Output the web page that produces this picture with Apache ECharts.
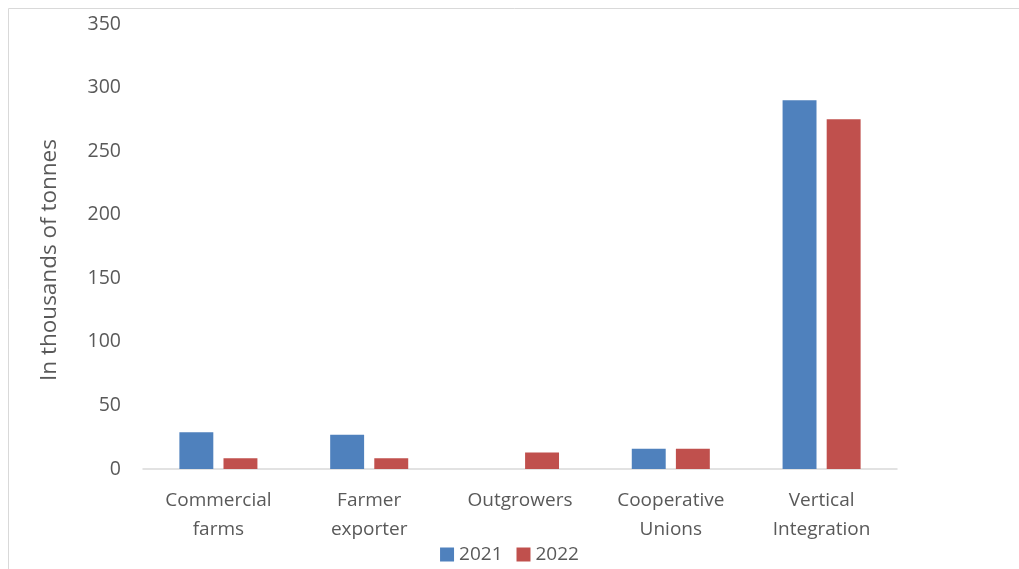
<!DOCTYPE html>
<html><head><meta charset="utf-8">
<script src="https://cdn.jsdelivr.net/npm/echarts@6/dist/echarts.min.js"></script>
<style>html,body{margin:0;padding:0;background:#fff}#c{width:1019px;height:569px}</style>
</head><body><div id="c"></div>
<script>
const categories = ['Commercial\nfarms', 'Farmer\nexporter', 'Outgrowers', 'Cooperative\nUnions', 'Vertical\nIntegration'];
const values2021 = [29, 27, 0, 16, 290];
const values2022 = [8.5, 8.5, 13, 16, 275];
const yTicks = [0, 50, 100, 150, 200, 250, 300, 350];
const font = 'Open Sans';
const chart = echarts.init(document.getElementById('c'));
chart.setOption({
  animation: false,
  textStyle: {fontFamily: font},
  graphic: [{type: 'rect', shape: {x: 8.5, y: 8.5, width: 1030, height: 600}, style: {fill: 'none', stroke: '#d9d9d9', lineWidth: 1}, silent: true}],
  grid: {left: 143, right: 122, top: 24, bottom: 100},
  legend: {bottom: 0, left: 'center', itemWidth: 14, itemHeight: 14, itemGap: 14,
    textStyle: {fontSize: 19, color: '#595959', fontFamily: font},
    data: [{name: '2021', icon: 'rect'}, {name: '2022', icon: 'rect'}]},
  xAxis: {type: 'category', data: categories,
    axisLine: {lineStyle: {color: '#d9d9d9', width: 1.5}}, axisTick: {show: false},
    axisLabel: {color: '#595959', fontSize: 19, lineHeight: 29, margin: 17, interval: 0, fontFamily: font}},
  yAxis: {type: 'value', min: yTicks[0], max: yTicks[yTicks.length - 1], interval: 50,
    name: 'In thousands of tonnes', nameLocation: 'middle', nameGap: 82,
    nameTextStyle: {color: '#595959', fontSize: 22.5, fontFamily: font, padding: [0, 27, 0, 0]},
    splitLine: {show: false}, axisLine: {show: false}, axisTick: {show: false},
    axisLabel: {color: '#595959', fontSize: 19.5, margin: 22, fontFamily: font}},
  series: [
    {name: '2021', type: 'bar', data: values2021, barWidth: '22.5%', barGap: '30%',
      itemStyle: {color: '#4f81bd'}},
    {name: '2022', type: 'bar', data: values2022, barWidth: '22.5%',
      itemStyle: {color: '#c0504d'}}
  ]
});
</script></body></html>
